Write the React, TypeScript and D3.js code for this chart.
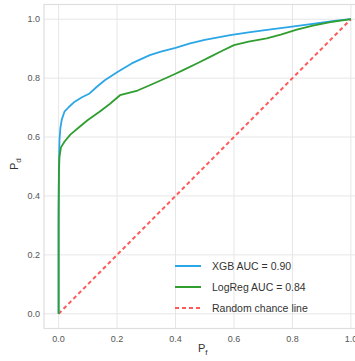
import React, { useEffect, useRef } from 'react';
import * as d3 from 'd3';

// ROC curves: [false positive rate, true positive rate]
const xgbRoc: [number, number][] = [
  [0, 0], [0, 0.3], [0.001, 0.5], [0.003, 0.59], [0.006, 0.63], [0.011, 0.66], [0.02, 0.686],
  [0.035, 0.702], [0.055, 0.72], [0.08, 0.735], [0.106, 0.748], [0.13, 0.77], [0.158, 0.793],
  [0.2, 0.82], [0.25, 0.85], [0.312, 0.878], [0.35, 0.89], [0.4, 0.903], [0.45, 0.918],
  [0.5, 0.93], [0.587, 0.946], [0.65, 0.955], [0.7, 0.962], [0.792, 0.974], [0.85, 0.982],
  [0.9, 0.988], [0.95, 0.995], [1, 1],
];
const logRegRoc: [number, number][] = [
  [0, 0], [0, 0.35], [0.001, 0.48], [0.003, 0.533], [0.008, 0.565], [0.02, 0.584],
  [0.04, 0.608], [0.072, 0.635], [0.1, 0.658], [0.14, 0.686], [0.175, 0.712], [0.21, 0.742],
  [0.24, 0.75], [0.27, 0.758], [0.312, 0.776], [0.36, 0.797], [0.4, 0.815], [0.426, 0.827],
  [0.48, 0.853], [0.52, 0.873], [0.56, 0.893], [0.6, 0.912], [0.65, 0.924], [0.712, 0.935],
  [0.76, 0.948], [0.815, 0.965], [0.87, 0.978], [0.93, 0.99], [1, 1],
];
const chanceLine: [number, number][] = [[0, 0], [1, 1]];
const ticks = [0, 0.2, 0.4, 0.6, 0.8, 1.0];
const legendLabels = ['XGB AUC = 0.90', 'LogReg AUC = 0.84', 'Random chance line'];

const App = () => {
  const ref = useRef<SVGSVGElement>(null);
  const width = 355;
  const height = 361;

  useEffect(() => {
    const svg = d3.select(ref.current);
    svg.selectAll('*').remove();

    const x = d3.scaleLinear().domain([-0.05, 1.05]).range([44, 365.5]);
    const y = d3.scaleLinear().domain([-0.05, 1.05]).range([328.5, 4.5]);
    const font = 'Liberation Sans, Arial, sans-serif';

    // grid
    const g = svg.append('g');
    g.selectAll('.vg').data(ticks).enter().append('line')
      .attr('x1', d => x(d)).attr('x2', d => x(d))
      .attr('y1', y(-0.05)).attr('y2', y(1.05))
      .attr('stroke', '#e6e6e6').attr('stroke-width', 1);
    g.selectAll('.hg').data(ticks).enter().append('line')
      .attr('x1', x(-0.05)).attr('x2', x(1.05))
      .attr('y1', d => y(d)).attr('y2', d => y(d))
      .attr('stroke', '#e6e6e6').attr('stroke-width', 1);

    // frame
    g.append('rect')
      .attr('x', x(-0.05)).attr('y', y(1.05))
      .attr('width', x(1.05) - x(-0.05)).attr('height', y(-0.05) - y(1.05))
      .attr('fill', 'none').attr('stroke', '#dedede').attr('stroke-width', 1.2);

    // tick labels
    g.selectAll('.xt').data(ticks).enter().append('text')
      .attr('x', d => x(d)).attr('y', y(-0.05) + 13)
      .attr('text-anchor', 'middle')
      .attr('font-family', font).attr('font-size', 9).attr('fill', '#555')
      .text(d => d.toFixed(1));
    g.selectAll('.yt').data(ticks).enter().append('text')
      .attr('x', x(-0.05) - 4).attr('y', d => y(d) + 3)
      .attr('text-anchor', 'end')
      .attr('font-family', font).attr('font-size', 9).attr('fill', '#555')
      .text(d => d.toFixed(1));

    // axis labels
    const xl = g.append('text')
      .attr('x', 198).attr('y', 352)
      .attr('font-family', font).attr('font-size', 11).attr('fill', '#333');
    xl.append('tspan').text('P');
    xl.append('tspan').attr('font-size', 8).attr('dy', 3).text('f');
    const yl = g.append('text')
      .attr('transform', `translate(18,170) rotate(-90)`)
      .attr('font-family', font).attr('font-size', 11).attr('fill', '#333');
    yl.append('tspan').text('P');
    yl.append('tspan').attr('font-size', 8).attr('dy', 3).text('d');

    const line = d3.line<[number, number]>().x(d => x(d[0])).y(d => y(d[1]));

    g.append('path').datum(chanceLine)
      .attr('fill', 'none').attr('stroke', '#ff5a5a').attr('stroke-width', 2)
      .attr('stroke-dasharray', '4,3').attr('d', line);
    g.append('path').datum(xgbRoc)
      .attr('fill', 'none').attr('stroke', '#2ba6e6').attr('stroke-width', 1.8)
      .attr('stroke-linejoin', 'round').attr('d', line);
    g.append('path').datum(logRegRoc)
      .attr('fill', 'none').attr('stroke', '#2f9e2f').attr('stroke-width', 1.8)
      .attr('stroke-linejoin', 'round').attr('d', line);

    // legend
    const colors = ['#2ba6e6', '#2f9e2f', '#ff5a5a'];
    const lg = g.append('g');
    legendLabels.forEach((label, i) => {
      const yy = 266 + i * 21;
      lg.append('line')
        .attr('x1', 175).attr('x2', 201).attr('y1', yy).attr('y2', yy)
        .attr('stroke', colors[i]).attr('stroke-width', 2)
        .attr('stroke-dasharray', i === 2 ? '4,3' : null);
      lg.append('text')
        .attr('x', 212).attr('y', yy + 4)
        .attr('font-family', font).attr('font-size', 10.5).attr('fill', '#333')
        .text(label);
    });
  }, []);

  return (
    <svg ref={ref} width={width} height={height}
      style={{ position: 'absolute', left: 0, top: 0, background: '#fff' }} />
  );
};

export default App;
